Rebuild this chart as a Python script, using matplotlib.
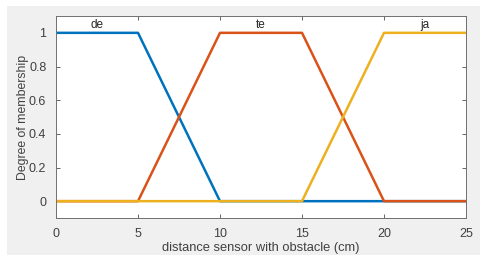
from matplotlib import pyplot as plt
from matplotlib.patches import Rectangle

# Membership function data (distance in cm)
x_de = [0, 5, 10, 25]
y_de = [1, 1, 0, 0]
x_te = [0, 5, 10, 15, 20, 25]
y_te = [0, 0, 1, 1, 0, 0]
x_ja = [0, 15, 20, 25]
y_ja = [0, 0, 1, 1]

names = ['de', 'te', 'ja']
name_pos = [2.5, 12.5, 22.5]

plt.rcParams['font.family'] = ['Liberation Sans', 'DejaVu Sans']

fig = plt.figure(figsize=(4.86, 2.61), dpi=100)
fig.patch.set_facecolor('white')

# Gray MATLAB-like panel, behind the axes
fig.patches.append(Rectangle((7 / 486, 6 / 261), 473 / 486, 249 / 261,
                             transform=fig.transFigure, facecolor='#f0f0f0',
                             edgecolor='none', zorder=-10))

ax = fig.add_axes([56 / 486, 43 / 261, 410 / 486, 202 / 261])
ax.set_zorder(5)
ax.set_facecolor('white')

ax.plot(x_de, y_de, color='#0072BD', linewidth=1.8)
ax.plot(x_te, y_te, color='#D95319', linewidth=1.8)
ax.plot(x_ja, y_ja, color='#EDB120', linewidth=1.8)

for n, p in zip(names, name_pos):
    ax.text(p, 1.01, n, ha='center', va='bottom', fontsize=8.5, color='#262626')

ax.set_xlim(0, 25)
ax.set_ylim(-0.1, 1.1)
ax.set_xticks([0, 5, 10, 15, 20, 25])
ax.set_yticks([0, 0.2, 0.4, 0.6, 0.8, 1])
ax.set_yticklabels(['0', '0.2', '0.4', '0.6', '0.8', '1'])
ax.tick_params(direction='in', top=True, right=True, length=3, width=0.6,
               colors='#4d4d4d', labelsize=9, labelcolor='#404040', pad=7)
for s in ax.spines.values():
    s.set_color('#707070')
    s.set_linewidth(0.7)

ax.set_xlabel('distance sensor with obstacle (cm)', fontsize=9.3, color='#404040', labelpad=2)
ax.set_ylabel('Degree of membership', fontsize=8.8, color='#404040', labelpad=0)

plt.savefig('out.png', dpi=100)
